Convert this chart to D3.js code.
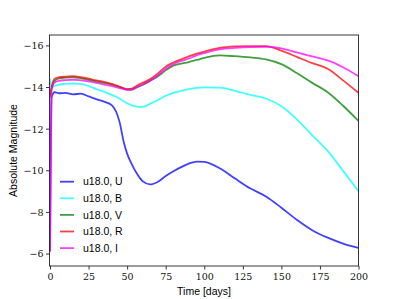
<!DOCTYPE html>
<html>
<head>
<meta charset="utf-8">
<script src="https://cdn.jsdelivr.net/npm/d3@7"></script>
<style>
  body { margin: 0; background: #fff; }
  svg { display: block; }
  .lab { font-family: "Liberation Sans", sans-serif; font-size: 10.5px; fill: #000; }
</style>
</head>
<body>
<script>
// temps (jours) commun a toutes les bandes
const days = [0, 1, 3, 6, 10, 15, 20, 25, 30, 35, 40, 45, 48, 50, 53, 56, 60, 65, 70, 75,
              80, 85, 90, 95, 100, 110, 120, 130, 140, 150, 160, 170, 180, 190, 200];

const magU = [-6.1, -13.5, -13.75, -13.7, -13.72, -13.65, -13.68, -13.55, -13.42, -13.3,
              -13.13, -12.35, -11.3, -10.8, -10.3, -9.88, -9.48, -9.32, -9.45, -9.72,
              -9.95, -10.15, -10.32, -10.42, -10.4, -10.1, -9.6, -9.12, -8.74, -8.2,
              -7.62, -7.12, -6.76, -6.48, -6.27];
const magB = [-14.4, -13.95, -14.05, -14.12, -14.15, -14.17, -14.15, -14.05, -13.9, -13.78,
              -13.62, -13.45, -13.3, -13.22, -13.12, -13.06, -13.05, -13.2, -13.38, -13.58,
              -13.72, -13.82, -13.9, -13.96, -13.98, -13.97, -13.82, -13.62, -13.45, -13.08,
              -12.45, -11.68, -10.93, -9.97, -9.0];
const magV = [-13.5, -13.9, -14.3, -14.42, -14.45, -14.47, -14.42, -14.35, -14.27, -14.2,
              -14.12, -14.0, -13.92, -13.88, -13.88, -13.97, -14.1, -14.3, -14.52, -14.8,
              -15.03, -15.12, -15.2, -15.3, -15.4, -15.52, -15.48, -15.42, -15.33, -15.1,
              -14.67, -14.2, -13.75, -13.1, -12.37];
const magR = [-13.6, -14.0, -14.4, -14.47, -14.5, -14.52, -14.47, -14.4, -14.32, -14.25,
              -14.15, -14.02, -13.93, -13.9, -13.92, -14.05, -14.2, -14.38, -14.65, -14.98,
              -15.18, -15.33, -15.47, -15.6, -15.7, -15.88, -15.95, -15.97, -15.97, -15.75,
              -15.45, -15.15, -14.88, -14.32, -13.72];
const magI = [-6.1, -13.9, -14.22, -14.3, -14.33, -14.35, -14.32, -14.27, -14.2, -14.12,
              -14.05, -13.95, -13.9, -13.86, -13.88, -13.98, -14.12, -14.3, -14.57, -14.88,
              -15.1, -15.25, -15.37, -15.52, -15.63, -15.81, -15.88, -15.92, -15.93, -15.86,
              -15.66, -15.47, -15.28, -14.95, -14.52];

const labels = ["u18.0, U", "u18.0, B", "u18.0, V", "u18.0, R", "u18.0, I"];
const colors = ["blue", "cyan", "green", "red", "magenta"];
const series = [magU, magB, magV, magR, magI];

const xTicks = [0, 25, 50, 75, 100, 125, 150, 175, 200];
const yTicks = [-16, -14, -12, -10, -8, -6];

const W = 399, H = 299;
const margin = {top: 35, right: 40.5, bottom: 33, left: 49.5};
const width = W - margin.left - margin.right,
      height = H - margin.top - margin.bottom;

const svg = d3.select("body").append("svg")
    .attr("width", W)
    .attr("height", H);

const g = svg.append("g")
    .attr("transform", "translate(" + margin.left + "," + margin.top + ")");

let x = d3.scaleLinear().domain([0, 200]).range([0.5, width]);
let y = d3.scaleLinear().domain([-5.4, -16.5]).range([height, 0]);

const fmt = d => String(d).replace("-", "\u2212");

g.append("defs").append("clipPath").attr("id", "clip")
  .append("rect").attr("width", width).attr("height", height);

// courbes
const line = d3.line()
    .x(d => x(d[0]))
    .y(d => y(d[1]))
    .curve(d3.curveMonotoneX);

g.append("g").attr("clip-path", "url(#clip)")
  .selectAll("path")
  .data(series)
  .join("path")
    .attr("d", s => line(days.map((t, i) => [t, s[i]])))
    .attr("fill", "none")
    .attr("stroke", (s, i) => colors[i])
    .attr("stroke-opacity", 0.75)
    .attr("stroke-width", 1.8);

// axes
const xAxis = g.append("g")
    .attr("transform", "translate(0," + height + ")")
    .call(d3.axisBottom(x).tickValues(xTicks).tickFormat(fmt).tickSizeOuter(0).tickSize(3.5));
xAxis.selectAll("text").attr("y", 14).attr("dy", 0);
const yAxis = g.append("g")
    .call(d3.axisLeft(y).tickValues(yTicks).tickFormat(fmt).tickSizeOuter(0).tickSize(3.5));
yAxis.selectAll("text").attr("x", -6).attr("dy", "0.36em");
[xAxis, yAxis].forEach(a => {
  a.attr("font-family", "'DejaVu Serif', serif").attr("font-size", 9.5);
  a.select(".domain").remove();
  a.selectAll("line").attr("stroke", "#000").attr("stroke-width", 0.8);
  a.selectAll("text").attr("fill", "#111");
});

g.append("rect")
    .attr("width", width)
    .attr("height", height)
    .attr("fill", "none")
    .attr("stroke", "#222")
    .attr("stroke-width", 0.9);

// libelles des axes
svg.append("text").attr("class", "lab")
    .attr("x", margin.left + width / 2)
    .attr("y", 295)
    .attr("text-anchor", "middle")
    .text("Time [days]");
svg.append("text").attr("class", "lab")
    .attr("transform", "translate(17," + (margin.top + height / 2) + ") rotate(-90)")
    .attr("text-anchor", "middle")
    .text("Absolute Magnitude");

// legende
const leg = g.append("g").attr("transform", "translate(10.5,146.7)");
const rows = leg.selectAll("g").data(labels).join("g")
    .attr("transform", (d, i) => "translate(0," + i * 16.6 + ")");
rows.append("line")
    .attr("x1", 0).attr("x2", 14)
    .attr("stroke", (d, i) => colors[i])
    .attr("stroke-opacity", 0.75)
    .attr("stroke-width", 1.8);
rows.append("text").attr("class", "lab")
    .attr("x", 23)
    .attr("dy", "0.35em")
    .text(d => d);
</script>
</body>
</html>
